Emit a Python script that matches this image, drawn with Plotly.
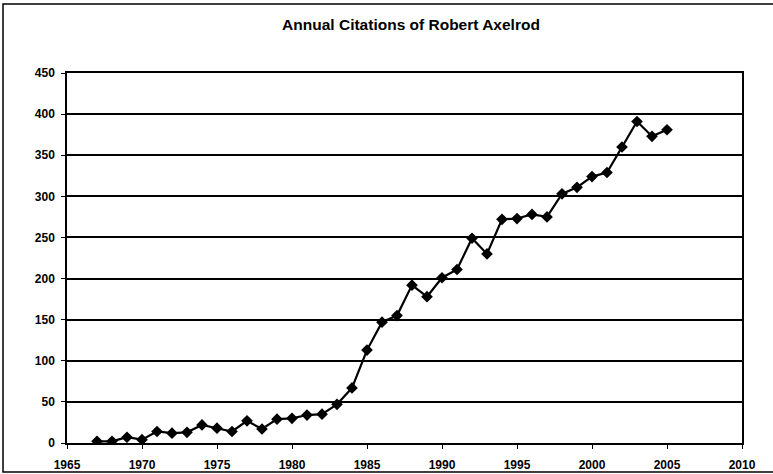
import plotly.graph_objects as go

years = list(range(1967, 2006))
citations = [2, 2, 7, 4, 14, 12, 13, 22, 18, 14,
             27, 17, 29, 30, 34, 35, 47, 67, 113, 147,
             155, 192, 178, 201, 211, 249, 230, 272, 273, 278,
             275, 303, 311, 324, 329, 360, 391, 373, 381]
x_ticks = list(range(1965, 2011, 5))
y_ticks = list(range(0, 451, 50))
title = "Annual Citations of Robert Axelrod"

FONT = "Liberation Sans, Arial, sans-serif"

L, R, T, B = 67, 31, 73, 31
PW, PH = 773 - L - R, 474 - T - B

fig = go.Figure()
fig.add_trace(go.Scatter(
    x=years, y=citations, mode="lines+markers",
    line=dict(color="black", width=2.2),
    marker=dict(symbol="diamond", size=9, color="black"),
    showlegend=False,
))

fig.update_layout(
    width=773, height=474,
    margin=dict(l=L, r=R, t=T, b=B, autoexpand=False),
    paper_bgcolor="white", plot_bgcolor="white",
    title=dict(text="<b>" + title + "</b>", x=411 / 773, xanchor="center",
               xref="container",
               y=1 - 25 / 474, yanchor="middle",
               font=dict(family=FONT, size=15.5, color="black")),
    font=dict(family=FONT, size=12, color="black"),
    xaxis=dict(range=[1965, 2010], tickvals=x_ticks,
               ticktext=["<b>%d</b>" % v for v in x_ticks],
               showgrid=False, zeroline=False, automargin=False,
               showline=True, linecolor="black", linewidth=1.5, mirror=True,
               ticks="outside", ticklen=4, tickcolor="black", tickwidth=1,
               ticklabelstandoff=6,
               tickfont=dict(family=FONT, size=12, color="black")),
    yaxis=dict(range=[0, 450], tickvals=y_ticks,
               ticktext=["<b>%d</b>" % v for v in y_ticks],
               showgrid=True, gridcolor="black", gridwidth=1.8,
               zeroline=False, automargin=False,
               showline=True, linecolor="black", linewidth=1.5, mirror=True,
               ticks="outside", ticklen=4, tickcolor="black", tickwidth=1,
               ticklabelstandoff=4,
               tickfont=dict(family=FONT, size=12, color="black")),
    shapes=[dict(type="rect", xref="paper", yref="paper",
                 x0=-(L - 3) / PW, x1=1.1, y0=-(B - 2) / PH,
                 y1=1 + (T - 4) / PH,
                 line=dict(color="black", width=1.5))],
)

fig.write_html("out.html", config={"displayModeBar": False},
               post_script="document.body.style.margin='0';document.body.style.padding='0';")
